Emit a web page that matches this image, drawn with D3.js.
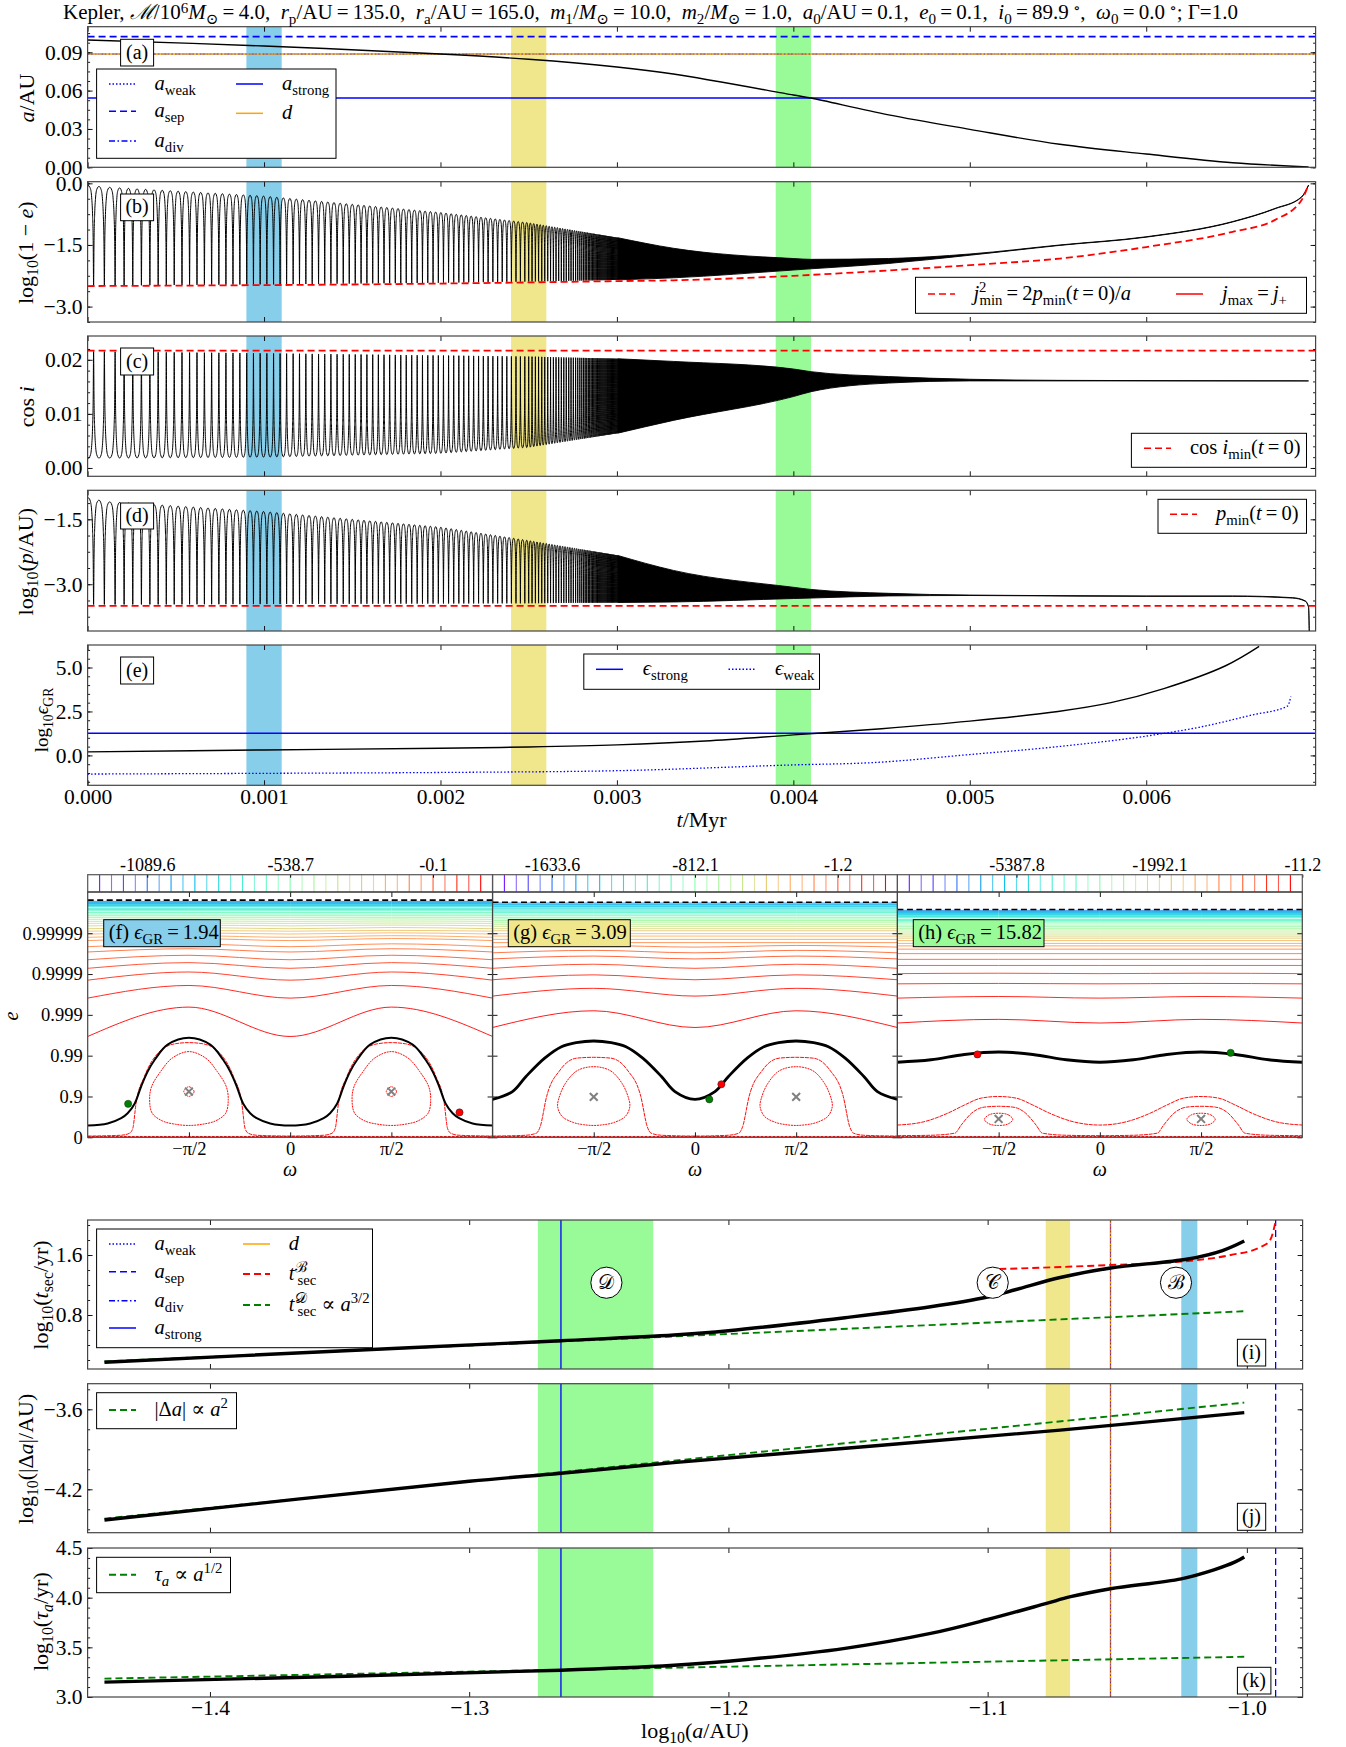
<!DOCTYPE html>
<html>
<head>
<meta charset="utf-8">
<script src="https://cdn.jsdelivr.net/npm/d3@7"></script>
<style>
html, body { margin: 0; background: white; }
text { font-family: "Liberation Serif", "DejaVu Serif", serif; white-space: pre; fill: black; }
</style>
</head>
<body>
<div id="chart"></div>
<script>
// ---- top panels, x is t in Myr ----
const tTicks = [0, 0.001, 0.002, 0.003, 0.004, 0.005, 0.006];
const tBandLo = [0.0009, 0.0024, 0.0039];
const tBandHi = [0.0011, 0.0026, 0.0041];
const bandColors = ["skyblue", "khaki", "palegreen"];

const aT = [0, 0.001, 0.002, 0.0025, 0.003, 0.00332, 0.004, 0.0041, 0.00454, 0.005, 0.00551, 0.006, 0.00649, 0.00692];
const aVal = [0.0996, 0.0949, 0.0886, 0.0845, 0.0785, 0.073, 0.0566, 0.0542, 0.041, 0.0297, 0.018, 0.0104, 0.0036, 0.0003];
const aSep = 0.1022, aD = 0.0886, aWeak = 0.0886, aDiv = 0.0886, aStrong = 0.0542;

const cycleTimes = [-26, 34, 95, 156, 207, 256, 305, 353, 400, 446, 491, 535, 578, 620, 662, 703, 744, 784, 824, 863, 902, 940, 978,
  1016, 1054, 1091, 1128, 1165, 1201, 1237, 1273, 1309, 1344, 1379, 1414, 1449, 1483, 1517, 1550, 1583, 1616, 1648, 1680, 1712, 1744,
  1775, 1806, 1837, 1868, 1898, 1928, 1958, 1988, 2017, 2046, 2075, 2104, 2132, 2160, 2188, 2216, 2243, 2270, 2297, 2324, 2350, 2376,
  2402, 2428, 2453, 2478, 2500, 2519, 2538, 2556, 2574, 2591, 2608, 2624, 2640, 2655, 2670, 2685, 2699, 2713, 2727, 2740, 2753, 2766,
  2778, 2790, 2801, 2811, 2820, 2829, 2838, 2846, 2854, 2862, 2869, 2876, 2883, 2890, 2897, 2903, 2909, 2915, 2921, 2927, 2933, 2939,
  2945, 2950, 2955, 2960, 2965, 2970, 2975, 2980, 2985, 2990, 2995, 3000, 3005];
// one lobe between two troughs: [phase, fraction of the way to the far envelope]
const lobePhase = [0, 0.04, 0.1, 0.18, 0.3, 0.5, 0.7, 0.82, 0.9, 0.96, 1];
const lobeFrac = [0, 0.45, 0.72, 0.88, 0.97, 1, 0.97, 0.88, 0.72, 0.45, 0];

const bUpT = [0, 0.0001, 0.001, 0.002, 0.0025, 0.003, 0.00332, 0.004, 0.0041, 0.00454, 0.005, 0.00551, 0.006, 0.00649, 0.00673, 0.00688, 0.00692];
const bUp = [-0.05, -0.09, -0.31, -0.71, -0.96, -1.32, -1.58, -1.83, -1.85, -1.83, -1.72, -1.5, -1.3, -0.93, -0.61, -0.33, -0.04];
const bLoT = [0, 0.001, 0.002, 0.0025, 0.003, 0.00332, 0.004, 0.00454, 0.005, 0.00551, 0.006, 0.00649, 0.00673, 0.00688, 0.00692];
const bLo = [-2.49, -2.46, -2.42, -2.39, -2.35, -2.3, -2.11, -1.95, -1.75, -1.51, -1.31, -0.94, -0.62, -0.34, -0.05];
const bMinT = [0, 0.002, 0.003, 0.00332, 0.004, 0.00454, 0.005, 0.00551, 0.006, 0.00649, 0.00673, 0.00688, 0.00692];
const bMin = [-2.5, -2.44, -2.38, -2.36, -2.25, -2.12, -1.99, -1.83, -1.55, -1.18, -0.89, -0.41, -0.04];

const cUpT = [0, 0.001, 0.002, 0.0025, 0.003, 0.00332, 0.004, 0.0041, 0.00454, 0.005, 0.0055, 0.00692];
const cUp = [0.02155, 0.0212, 0.0208, 0.0206, 0.0202, 0.0197, 0.0183, 0.0178, 0.0169, 0.0164, 0.0162, 0.0161];
const cLoT = [0, 0.001, 0.002, 0.0025, 0.003, 0.00332, 0.004, 0.0041, 0.00454, 0.005, 0.0055, 0.00692];
const cLo = [0.0018, 0.002, 0.0027, 0.0038, 0.0064, 0.0088, 0.0132, 0.0141, 0.0157, 0.0161, 0.0161, 0.0161];
const cMin = 0.0217;

const dUpT = [0, 0.0001, 0.001, 0.002, 0.0025, 0.003, 0.00332, 0.004, 0.0041, 0.00454, 0.005, 0.006, 0.00649, 0.00683, 0.0069, 0.00692, 0.006925];
const dUp = [-1.0, -1.09, -1.32, -1.68, -1.99, -2.33, -2.68, -3.07, -3.12, -3.21, -3.25, -3.27, -3.27, -3.31, -3.38, -3.52, -4.3];
const dLoT = [0, 0.0025, 0.00332, 0.004, 0.00454, 0.005, 0.006, 0.00649, 0.00683, 0.0069, 0.00692, 0.006925];
const dLo = [-3.47, -3.44, -3.41, -3.33, -3.27, -3.26, -3.28, -3.28, -3.32, -3.39, -3.53, -4.3];
const dMin = -3.5;

const eGrT = [0, 0.001, 0.002, 0.0025, 0.003, 0.0035, 0.004, 0.0045, 0.005, 0.0055, 0.0058, 0.0061, 0.00645, 0.00664];
const eGr = [0.2, 0.31, 0.41, 0.48, 0.6, 0.82, 1.17, 1.52, 1.95, 2.5, 3.0, 3.8, 5.1, 6.2];
const eWeakT = [0, 0.001, 0.002, 0.003, 0.004, 0.00445, 0.005, 0.0055, 0.006, 0.0063, 0.0066, 0.0068, 0.00682];
const eWeak = [-1.06, -1.02, -0.97, -0.87, -0.54, -0.41, 0.05, 0.5, 1.1, 1.6, 2.3, 2.8, 3.35];
const eStrong = 1.26;

// ---- middle panels, y is u = -log10(1-e) ----
const eTickU = [0, 1, 2, 3, 4, 5];
const eTickLabels = ["0", "0.9", "0.99", "0.999", "0.9999", "0.99999"];
const omegaTicks = [-Math.PI / 2, 0, Math.PI / 2];
const omegaLabels = ["\u2212\u03c0/2", "0", "\u03c0/2"];
const rainbowStops = ["#8000ff", "#4062fa", "#00b5eb", "#40ecd4", "#80ffb4", "#c0ec8e", "#ffb462", "#ff6231", "#ff0000"];
const barIndex = d3.range(1, 34);

const fAt0 = [5.78, 5.75, 5.73, 5.70, 5.68, 5.65, 5.61, 5.58, 5.55, 5.51, 5.47, 5.43, 5.39, 5.34, 5.29, 5.24, 5.18, 5.11, 5.05, 4.98, 4.90, 4.82, 4.67, 4.54, 4.35, 4.14, 3.85, 3.41, 2.47];
const fAt90 = [5.78, 5.75, 5.73, 5.70, 5.68, 5.65, 5.61, 5.58, 5.55, 5.51, 5.47, 5.43, 5.39, 5.35, 5.30, 5.25, 5.20, 5.14, 5.07, 5.01, 4.94, 4.87, 4.74, 4.62, 4.46, 4.28, 4.05, 3.72, 3.19];
const gAt0 = [5.74, 5.71, 5.69, 5.66, 5.64, 5.60, 5.57, 5.54, 5.51, 5.47, 5.43, 5.39, 5.35, 5.31, 5.27, 5.22, 5.17, 5.11, 5.06, 4.99, 4.93, 4.85, 4.77, 4.66, 4.52, 4.37, 4.14, 3.86, 3.46, 2.69];
const gAt90 = [5.74, 5.71, 5.69, 5.66, 5.64, 5.60, 5.57, 5.54, 5.51, 5.47, 5.43, 5.39, 5.35, 5.31, 5.27, 5.22, 5.17, 5.11, 5.06, 4.99, 4.93, 4.85, 4.77, 4.70, 4.58, 4.44, 4.24, 3.98, 3.65, 3.10];
const hAt0 = [5.56, 5.53, 5.51, 5.48, 5.46, 5.43, 5.41, 5.38, 5.34, 5.31, 5.28, 5.25, 5.20, 5.16, 5.12, 5.08, 5.03, 4.98, 4.93, 4.88, 4.82, 4.75, 4.69, 4.61, 4.50, 4.36, 4.21, 4.01, 3.76, 3.41, 2.80];
const hAt90 = [5.56, 5.53, 5.51, 5.48, 5.46, 5.43, 5.41, 5.38, 5.34, 5.31, 5.28, 5.25, 5.20, 5.16, 5.12, 5.08, 5.03, 4.98, 4.93, 4.88, 4.82, 4.75, 4.69, 4.61, 4.50, 4.36, 4.21, 4.02, 3.77, 3.45, 2.89];

const fSepW = [0, 0.31, 0.52, 0.62, 0.73, 0.83, 0.93, 1.04, 1.24, 1.57];
const fSepU = [0.29, 0.34, 0.47, 0.59, 0.83, 1.25, 1.61, 1.9, 2.27, 2.44];
const fOutW = [0, 0.52, 0.65, 0.70, 0.75, 0.88, 1.09, 1.35, 1.57];
const fOutU = [0.03, 0.05, 0.10, 0.22, 0.83, 1.49, 2.06, 2.29, 2.32];
const fLoopW = [0, 0.26, 0.44, 0.58, 0.61, 0.57, 0.41, 0.21, 0];
const fLoopU = [2.10, 1.94, 1.61, 1.24, 0.92, 0.59, 0.40, 0.32, 0.29];
const fDotW = [0, 0.08, 0];
const fDotU = [1.24, 1.12, 1.0];

const gSepW = [0, 0.31, 0.52, 0.81, 1.07, 1.30, 1.57];
const gSepU = [0.93, 1.12, 1.49, 1.94, 2.22, 2.32, 2.36];
const gOutW = [0, 0.52, 0.68, 0.74, 0.84, 1.05, 1.31, 1.57];
const gOutU = [0.03, 0.05, 0.10, 0.26, 1.0, 1.65, 1.94, 1.96];
const gLoopW = [0, 0.26, 0.44, 0.54, 0.56, 0.49, 0.31, 0.16, 0];
const gLoopU = [1.73, 1.63, 1.32, 0.96, 0.75, 0.51, 0.36, 0.31, 0.29];

const hSepW = [0, 0.52, 1.04, 1.57];
const hSepU = [1.84, 1.90, 2.03, 2.09];
const hUpW = [0, 0.41, 0.78, 1.04, 1.30, 1.57];
const hUpU = [0.30, 0.38, 0.59, 0.79, 0.96, 1.0];
const hOutW = [0, 0.52, 0.89, 0.99, 1.15, 1.35, 1.57];
const hOutU = [0.04, 0.05, 0.10, 0.30, 0.59, 0.74, 0.76];
const hLoopW = [0, 0.15, 0.22, 0.15, 0];
const hLoopU = [0.59, 0.55, 0.44, 0.33, 0.29];

// ---- bottom panels, x is log10(a/AU) ----
const logATicks = [-1.4, -1.3, -1.2, -1.1, -1.0];
const aBandLo = [-1.0253, -1.0776, -1.2735];
const aBandHi = [-1.0191, -1.0682, -1.229];
const logAStrong = -1.2646, logAD = -1.0526, logASep = -0.9889;

const iA = [-1.4407, -1.35, -1.2646, -1.221, -1.2, -1.155, -1.122, -1.1, -1.089, -1.072, -1.0526, -1.0227, -1.0094, -1.001];
const iVal = [0.17, 0.32, 0.457, 0.533, 0.59, 0.764, 0.91, 1.04, 1.14, 1.3, 1.427, 1.547, 1.66, 1.787];
const iBA = [-1.0955, -1.0526, -1.0227, -1.0062, -0.9945, -0.991, -0.9888];
const iBVal = [1.413, 1.467, 1.52, 1.6, 1.71, 1.8, 2.067];
const iDA = [-1.4407, -1.001];
const iDVal = [0.18, 0.85];

const jA = [-1.4407, -1.3, -1.2646, -1.2212, -1.072, -1.001];
const jVal = [-4.43, -4.14, -4.08, -4.0, -3.756, -3.625];
const jFitA = [-1.4407, -1.001];
const jFitVal = [-4.42, -3.55];

const kA = [-1.4407, -1.2646, -1.221, -1.2, -1.155, -1.122, -1.1, -1.0776, -1.068, -1.0526, -1.0253, -1.0127, -1.0045, -1.001];
const kVal = [3.15, 3.27, 3.32, 3.36, 3.49, 3.64, 3.78, 3.94, 4.01, 4.09, 4.19, 4.28, 4.36, 4.41];
const kFitA = [-1.4407, -1.001];
const kFitVal = [3.185, 3.405];

const DASH = "7 4", DOT = "1.5 2", DASHDOT = "6 2.5 1.5 2.5";
const SMOOTH = d3.curveCatmullRom.alpha(0.5);

const svg = d3.select("#chart").append("svg").attr("width", 1346).attr("height", 1747);
const marks = svg.append("g");
const overlay = svg.append("g");

// tiny markup: *italic*, _{sub}, ^{sup}, ~{dx}
function rich(sel, str, fs, rise) {
  sel.attr("font-size", fs);
  let off = 0, dx = 0;
  str.split(/(\*[^*]+\*|_\{[^}]*\}|\^\{[^}]*\}|~\{[^}]*\})/).filter(s => s).forEach(s => {
    let txt = s, size = fs, target = 0, ital = false;
    if (s[0] == "~" && s[1] == "{") { dx = +s.slice(2, -1); return; }
    if (s[0] == "_" && s[1] == "{") { txt = s.slice(2, -1); size = fs * 0.72; target = fs * 0.24; }
    else if (s[0] == "^" && s[1] == "{") { txt = s.slice(2, -1); size = fs * 0.72; target = -fs * (rise || 0.38); }
    if (txt[0] == "*") { txt = txt.replace(/\*/g, ""); ital = true; }
    const t = sel.append("tspan").attr("font-size", size).attr("dy", target - off).text(txt);
    if (dx) { t.attr("dx", dx); dx = 0; }
    if (ital) t.attr("font-style", "italic");
    off = target;
  });
  return sel;
}

let clipCount = 0;
function makePanel(left, top, width, height, xDom, yDom) {
  const g = marks.append("g").attr("transform", `translate(${left},${top})`);
  const x = d3.scaleLinear().domain(xDom).range([0, width]);
  const y = d3.scaleLinear().domain(yDom).range([height, 0]);
  const id = "clip" + (clipCount++);
  g.append("clipPath").attr("id", id).append("rect").attr("width", width).attr("height", height);
  const plot = g.append("g").attr("clip-path", `url(#${id})`);
  return { g, x, y, plot, width, height, left, top };
}

function axes(p, o) {
  const tick = sel => { sel.selectAll("path").remove(); sel.selectAll("line").attr("stroke", "black").attr("stroke-width", 0.9); sel.selectAll("text").attr("font-family", "Liberation Serif").attr("font-size", o.fs || 21.5); };
  const top = p.g.append("g").call(d3.axisTop(p.x).tickValues(o.xTicks).tickSize(-5).tickFormat(""));
  const bot = p.g.append("g").attr("transform", `translate(0,${p.height})`)
    .call(d3.axisBottom(p.x).tickValues(o.xTicks).tickSize(-5).tickPadding(o.xPad || 3).tickFormat(o.xFmt || (() => "")));
  const lef = p.g.append("g").call(d3.axisLeft(p.y).tickValues(o.yTicks).tickSize(-5).tickPadding(5).tickFormat(o.yFmt || (() => "")));
  const rig = p.g.append("g").attr("transform", `translate(${p.width},0)`).call(d3.axisRight(p.y).tickValues(o.yTicks).tickSize(-5).tickFormat(""));
  [top, bot, lef, rig].forEach(a => tick(a));
  if (o.yMinor) {
    const a1 = p.g.append("g").call(d3.axisLeft(p.y).tickValues(o.yMinor).tickSize(-2.5).tickFormat(""));
    const a2 = p.g.append("g").attr("transform", `translate(${p.width},0)`).call(d3.axisRight(p.y).tickValues(o.yMinor).tickSize(-2.5).tickFormat(""));
    [a1, a2].forEach(a => tick(a));
  }
  p.g.append("rect").attr("width", p.width).attr("height", p.height).attr("fill", "none").attr("stroke", "#444").attr("stroke-width", 1.2);
}

function bands(p, lo, hi, colors) {
  p.plot.selectAll("rect.band").data(lo).join("rect").attr("class", "band")
    .attr("x", d => p.x(d))
    .attr("width", (d, i) => p.x(hi[i]) - p.x(d))
    .attr("height", p.height)
    .attr("fill", (d, i) => colors[i]);
}

function drawLine(p, xs, ys, stroke, width, dash, curve) {
  const line = d3.line().x(d => p.x(d[0])).y(d => p.y(d[1])).curve(curve || d3.curveMonotoneX);
  return p.plot.append("path").attr("d", line(xs.map((v, i) => [v, ys[i]])))
    .attr("fill", "none").attr("stroke", stroke).attr("stroke-width", width).attr("stroke-dasharray", dash || null);
}
function hLine(p, v, stroke, width, dash) { return drawLine(p, p.x.domain(), [v, v], stroke, width, dash, d3.curveLinear); }
function vLine(p, v, stroke, width, dash) { return drawLine(p, [v, v], p.y.domain(), stroke, width, dash, d3.curveLinear); }

// oscillating curve between two envelopes, solid black band past the last listed cycle
function oscillation(p, upT, up, loT, lo, flip) {
  const upper = d3.scaleLinear().domain(upT).range(up).clamp(true);
  const lower = d3.scaleLinear().domain(loT).range(lo).clamp(true);
  const pts = [];
  cycleTimes.slice(0, -1).forEach((c, k) => {
    const len = cycleTimes[k + 1] - c;
    lobePhase.forEach((ph, j) => {
      const t = (c + ph * len) * 1e-6;
      const f = flip ? 1 - lobeFrac[j] : lobeFrac[j];
      pts.push([t, lower(t) + f * (upper(t) - lower(t))]);
    });
  });
  const line = d3.line().x(d => p.x(d[0])).y(d => p.y(d[1])).curve(d3.curveMonotoneX);
  p.plot.append("path").attr("d", line(pts)).attr("fill", "none").attr("stroke", "black").attr("stroke-width", 1);
  const start = cycleTimes[cycleTimes.length - 1] * 1e-6;
  const ts = [start].concat(Array.from(new Set(upT.concat(loT))).filter(t => t > start).sort(d3.ascending));
  const area = d3.area().x(d => p.x(d)).y0(d => p.y(lower(d))).y1(d => p.y(upper(d))).curve(d3.curveMonotoneX);
  p.plot.append("path").attr("d", area(ts)).attr("fill", "black").attr("stroke", "black").attr("stroke-width", 0.9);
}

function labelBox(x0, y0, x1, y1, label, fs, fill) {
  overlay.append("rect").attr("x", x0).attr("y", y0).attr("width", x1 - x0).attr("height", y1 - y0)
    .attr("fill", fill || "white").attr("stroke", "black").attr("stroke-width", 1);
  const t = overlay.append("text").attr("x", fill ? x0 + 5 : (x0 + x1) / 2).attr("y", (y0 + y1) / 2 + fs * 0.3)
    .attr("text-anchor", fill ? "start" : "middle");
  rich(t, label, fs);
}

function legend(x0, y0, x1, y1, entries) {
  overlay.append("rect").attr("x", x0).attr("y", y0).attr("width", x1 - x0).attr("height", y1 - y0)
    .attr("fill", "white").attr("stroke", "black").attr("stroke-width", 1);
  entries.forEach(e => {
    overlay.append("line").attr("x1", e.x).attr("x2", e.x + 27).attr("y1", e.y).attr("y2", e.y)
      .attr("stroke", e.color).attr("stroke-width", e.w || 1.5).attr("stroke-dasharray", e.dash || null);
    rich(overlay.append("text").attr("x", e.tx).attr("y", e.y + 6), e.label, 20.5);
  });
}

function yLabel(x, y, label, fs) {
  rich(overlay.append("text").attr("transform", `translate(${x},${y}) rotate(-90)`).attr("text-anchor", "middle"), label, fs || 22);
}
function xLabel(x, y, label, fs) {
  rich(overlay.append("text").attr("x", x).attr("y", y).attr("text-anchor", "middle"), label, fs || 22);
}

// title
rich(overlay.append("text").attr("x", 63).attr("y", 18.5),
  "Kepler, *\u2133*/10^{6}*M*_{\u2299}\u2009=\u20094.0,  *r*_{p}/AU\u2009=\u2009135.0,  *r*_{a}/AU\u2009=\u2009165.0,  *m*_{1}/*M*_{\u2299}\u2009=\u200910.0,  *m*_{2}/*M*_{\u2299}\u2009=\u20091.0,  *a*_{0}/AU\u2009=\u20090.1,  *e*_{0}\u2009=\u20090.1,  *i*_{0}\u2009=\u200989.9\u2009^{\u2218},  *\u03c9*_{0}\u2009=\u20090.0\u2009^{\u2218}; \u0393=1.0", 21, 0.28);

// ---- panels a-e ----
const L = 87.6, W1 = 1228, tDom = [0, 0.00696];
const fmt2 = d3.format(".2f"), fmt1 = d3.format(".1f");

const pa = makePanel(L, 26.7, W1, 140.6, tDom, [0, 0.11]);
bands(pa, tBandLo, tBandHi, bandColors);
hLine(pa, aD, "orange", 1.4);
hLine(pa, aWeak, "blue", 1, DOT).attr("opacity", 0.45);
hLine(pa, aDiv, "blue", 1, DASHDOT).attr("opacity", 0.3);
hLine(pa, aSep, "blue", 1.6, DASH);
hLine(pa, aStrong, "blue", 1.4);
drawLine(pa, aT, aVal, "black", 1.4, null, SMOOTH);
axes(pa, { xTicks: tTicks, yTicks: [0, 0.03, 0.06, 0.09], yFmt: fmt2, yMinor: d3.range(0, 0.11, 0.0075) });

const pb = makePanel(L, 181.7, W1, 140.3, tDom, [-3.375, 0.04]);
bands(pb, tBandLo, tBandHi, bandColors);
oscillation(pb, bUpT, bUp, bLoT, bLo, false);
drawLine(pb, bMinT, bMin, "red", 1.8, DASH);
axes(pb, { xTicks: tTicks, yTicks: [-3, -1.5, 0], yFmt: fmt1, yMinor: d3.range(-3.375, 0.04, 0.375) });

const pc = makePanel(L, 336, W1, 140.3, tDom, [-0.00154, 0.0244]);
bands(pc, tBandLo, tBandHi, bandColors);
oscillation(pc, cUpT, cUp, cLoT, cLo, true);
hLine(pc, cMin, "red", 1.8, DASH);
axes(pc, { xTicks: tTicks, yTicks: [0, 0.01, 0.02], yFmt: fmt2, yMinor: d3.range(0, 0.024, 0.002) });

const pd = makePanel(L, 490.3, W1, 140.7, tDom, [-4.08, -0.83]);
bands(pd, tBandLo, tBandHi, bandColors);
oscillation(pd, dUpT, dUp, dLoT, dLo, false);
hLine(pd, dMin, "red", 1.8, DASH);
axes(pd, { xTicks: tTicks, yTicks: [-3, -1.5], yFmt: fmt1, yMinor: d3.range(-3.75, -0.83, 0.375) });

const pe = makePanel(L, 645, W1, 140.3, tDom, [-1.7, 6.28]);
bands(pe, tBandLo, tBandHi, bandColors);
hLine(pe, eStrong, "blue", 1.4);
drawLine(pe, eWeakT, eWeak, "blue", 1.3, DOT);
drawLine(pe, eGrT, eGr, "black", 1.4, null, SMOOTH);
axes(pe, { xTicks: tTicks, xFmt: d3.format(".3f"), yTicks: [0, 2.5, 5], yFmt: fmt1, yMinor: d3.range(-1.5, 6.28, 0.5) });

const c1x = 109, c1t = 154.5;
legend(96.6, 69, 336, 158.3, [
  { x: c1x, tx: c1t, y: 84, color: "blue", dash: DOT, label: "*a*_{weak}" },
  { x: c1x, tx: c1t, y: 111.3, color: "blue", dash: DASH, label: "*a*_{sep}" },
  { x: c1x, tx: c1t, y: 141, color: "blue", dash: DASHDOT, label: "*a*_{div}" },
  { x: 236, tx: 282, y: 84, color: "blue", label: "*a*_{strong}" },
  { x: 236, tx: 282, y: 113.3, color: "orange", label: "*d*" }
]);
legend(915.5, 277.3, 1306.5, 313.3, [
  { x: 928, tx: 973.4, y: 294, color: "red", dash: DASH, label: "*j*^{2}~{-7}_{min}\u2009=\u20092*p*_{min}(*t*\u2009=\u20090)/*a*" },
  { x: 1176, tx: 1222, y: 294, color: "red", label: "*j*_{max}\u2009=\u2009*j*_{+}" }
]);
legend(1131.4, 433.3, 1306.5, 467.3, [{ x: 1144, tx: 1190, y: 448.3, color: "red", dash: DASH, label: "cos *i*_{min}(*t*\u2009=\u20090)" }]);
legend(1158, 499.3, 1306.5, 533.3, [{ x: 1170, tx: 1216, y: 514.3, color: "red", dash: DASH, label: "*p*_{min}(*t*\u2009=\u20090)" }]);
legend(583.8, 654, 819.5, 689.3, [
  { x: 596, tx: 642.7, y: 669.3, color: "blue", label: "*\u03f5*_{strong}" },
  { x: 728.5, tx: 775, y: 669.3, color: "blue", dash: DOT, label: "*\u03f5*_{weak}" }
]);
labelBox(120.6, 39.3, 153.6, 66, "(a)", 20);
labelBox(120.6, 194, 153.6, 220.7, "(b)", 20);
labelBox(120.6, 348, 153.6, 375, "(c)", 20);
labelBox(120.6, 503, 153.6, 529, "(d)", 20);
labelBox(120.6, 657, 153.6, 684, "(e)", 20);
yLabel(34, 98, "*a*/AU");
yLabel(33, 252.7, "log_{10}(1 \u2212 *e*)");
yLabel(34, 406.7, "cos *i*");
yLabel(33, 561.7, "log_{10}(*p*/AU)");
yLabel(48, 720, "log_{10}*\u03f5*_{GR}", 19);
xLabel(701.6, 826.7, "*t*/Myr");

// ---- panels f-h ----
const rainbow = d3.scaleLinear().domain(rainbowStops.map((d, i) => i / (rainbowStops.length - 1))).range(rainbowStops);
const WP = 404.9, HP = 245.3, TP = 892, PI = Math.PI;

// mirror a quarter period (0..pi/2) over the whole -pi..pi range
function periodic(ws, us) {
  const fw = ws.map((w, i) => [w, us[i]]);
  const half = fw.concat(fw.slice(0, -1).reverse().map(d => [PI - d[0], d[1]]));
  const all = [];
  [-PI, 0].forEach(o => half.slice(o == 0 ? 1 : 0).forEach(d => all.push([d[0] + o, d[1]])));
  return all;
}

function omegaPanel(left, o) {
  const strip = marks.append("g").attr("transform", `translate(${left},874.7)`);
  const sx = d3.scaleLinear().domain([0, 34]).range([0, WP]);
  strip.selectAll("line").data(barIndex).join("line")
    .attr("x1", d => sx(d)).attr("x2", d => sx(d)).attr("y1", 0).attr("y2", 17.3)
    .attr("stroke", d => rainbow(d / 33)).attr("stroke-width", 1.1).attr("opacity", d => d % 2 ? 1 : 0.7);
  const sa = strip.append("g").call(d3.axisTop(sx).tickValues(o.barTicks).tickSize(-3).tickPadding(4).tickFormat((d, i) => o.barLabels[i]));
  sa.selectAll("path").remove();
  sa.selectAll("line").attr("stroke", "black");
  sa.selectAll("text").attr("font-family", "Liberation Serif").attr("font-size", 18);
  strip.append("rect").attr("width", WP).attr("height", 17.3).attr("fill", "none").attr("stroke", "#555").attr("stroke-width", 1.2);

  const p = makePanel(left, TP, WP, HP, [-PI, PI], [0, 6.01]);
  o.at0.forEach((u, i) => {
    const c = rainbow(0.2 + 0.8 * i / (o.at0.length - 1));
    drawLine(p, [-PI, -PI / 2, 0, PI / 2, PI], [u, o.at90[i], u, o.at90[i], u], c, 0.9);
  });
  const pline = d3.line().x(d => p.x(d[0])).y(d => p.y(d[1])).curve(d3.curveMonotoneX);
  const sepLine = d3.line().x(d => p.x(d[0])).y(d => p.y(d[1])).curve(SMOOTH);
  const loop = d3.line().x(d => p.x(d[0])).y(d => p.y(d[1])).curve(d3.curveCatmullRomClosed);
  const red = s => s.attr("fill", "none").attr("stroke", "red").attr("stroke-width", 0.95).attr("stroke-dasharray", "4 0.8");
  hLine(p, 0.02, "red", 1, "3 1");
  o.outers.forEach(c => red(p.plot.append("path").attr("d", pline(periodic(c[0], c[1])))));
  [-PI / 2, PI / 2].forEach(cw => {
    o.loops.forEach(c => {
      const right = c[0].map((w, i) => [cw + w, c[1][i]]);
      const inner = c[1].slice(1, -1).reverse();
      const mirrored = c[0].slice(1, -1).reverse().map((w, i) => [cw - w, inner[i]]);
      red(p.plot.append("path").attr("d", loop(right.concat(mirrored)))).attr("stroke-dasharray", "2 0.8");
    });
    p.plot.append("path").attr("d", d3.symbol(d3.symbolX, 42)())
      .attr("transform", `translate(${p.x(cw)},${p.y(o.xU)})`).attr("fill", "none").attr("stroke", "gray").attr("stroke-width", 2);
  });
  p.plot.append("path").attr("d", sepLine(periodic(o.sepW, o.sepU))).attr("fill", "none").attr("stroke", "black").attr("stroke-width", o.sepWidth);
  hLine(p, o.top, "black", 1.6, "6 3.5");
  p.plot.selectAll("circle").data(o.dots).join("circle")
    .attr("cx", d => p.x(d[0])).attr("cy", d => p.y(d[1])).attr("r", 3.6)
    .attr("fill", d => d[2]).attr("stroke", "#222").attr("stroke-width", 0.5);
  axes(p, { xTicks: omegaTicks, xFmt: (d, i) => omegaLabels[i], xPad: 5, yTicks: eTickU, yFmt: o.labels ? ((d, i) => eTickLabels[i]) : null, fs: 18.5 });
  labelBox(o.box[0], 919.7, o.box[1], 946.7, o.tag, 20.5, o.fill);
  xLabel(left + WP / 2, 1176, "*\u03c9*", 20);
}

omegaPanel(87.7, {
  at0: fAt0, at90: fAt90, labels: true, top: 5.81, xU: 1.12, sepW: fSepW, sepU: fSepU, sepWidth: 2,
  outers: [[fOutW, fOutU]], loops: [[fLoopW, fLoopU], [fDotW, fDotU]],
  dots: [[-2.514, 0.82, "green"], [2.628, 0.61, "red"]],
  barTicks: [5, 17, 29], barLabels: ["-1089.6", "-538.7", "-0.1"],
  box: [103.7, 220.3], tag: "(f) *\u03f5*_{GR}\u2009=\u20091.94", fill: bandColors[0]
});
omegaPanel(492.5, {
  at0: gAt0, at90: gAt90, labels: false, top: 5.76, xU: 0.99, sepW: gSepW, sepU: gSepU, sepWidth: 2.8,
  outers: [[gOutW, gOutU]], loops: [[gLoopW, gLoopU]],
  dots: [[0.223, 0.93, "green"], [0.41, 1.30, "red"]],
  barTicks: [5, 17, 29], barLabels: ["-1633.6", "-812.1", "-1.2"],
  box: [508.3, 630.3], tag: "(g) *\u03f5*_{GR}\u2009=\u20093.09", fill: bandColors[1]
});
omegaPanel(897.4, {
  at0: hAt0, at90: hAt90, labels: false, top: 5.58, xU: 0.45, sepW: hSepW, sepU: hSepU, sepWidth: 3,
  outers: [[hUpW, hUpU], [hOutW, hOutU]], loops: [[hLoopW, hLoopU]],
  dots: [[-1.90, 2.03, "red"], [2.03, 2.07, "green"]],
  barTicks: [10, 22, 34], barLabels: ["-5387.8", "-1992.1", "-11.2"],
  box: [913.3, 1044], tag: "(h) *\u03f5*_{GR}\u2009=\u200915.82", fill: bandColors[2]
});
yLabel(18, 1016, "*e*", 20);

// ---- panels i-k ----
const WB = 1215, aDom = [-1.4472, -0.9785];
function lowerPanel(top, h, yDom) {
  const p = makePanel(L, top, WB, h, aDom, yDom);
  bands(p, aBandLo, aBandHi, bandColors);
  vLine(p, logAD, "orange", 1.6);
  vLine(p, logAD, "blue", 1, DOT).attr("opacity", 0.5);
  vLine(p, logAD, "purple", 1, DASHDOT).attr("opacity", 0.4);
  vLine(p, logASep, "blue", 1.3, DASH);
  vLine(p, logAStrong, "blue", 1.3);
  return p;
}

const pi_ = lowerPanel(1220, 149, [0.08, 2.067]);
drawLine(pi_, iDA, iDVal, "green", 1.9, DASH, d3.curveLinear);
drawLine(pi_, iBA, iBVal, "red", 1.9, DASH);
drawLine(pi_, iA, iVal, "black", 3.4, null, SMOOTH);
axes(pi_, { xTicks: logATicks, yTicks: [0.8, 1.6], yFmt: fmt1, yMinor: d3.range(0.2, 2.067, 0.2) });

const pj = lowerPanel(1383.7, 149, [-4.5255, -3.408]);
drawLine(pj, jFitA, jFitVal, "green", 1.9, DASH, d3.curveLinear);
drawLine(pj, jA, jVal, "black", 3.4, null, SMOOTH);
axes(pj, { xTicks: logATicks, yTicks: [-4.2, -3.6], yFmt: fmt1, yMinor: d3.range(-4.5, -3.408, 0.15) });

const pk = lowerPanel(1548, 149, [3, 4.5]);
drawLine(pk, kFitA, kFitVal, "green", 1.9, DASH, d3.curveLinear);
drawLine(pk, kA, kVal, "black", 3.4, null, SMOOTH);
axes(pk, { xTicks: logATicks, xFmt: fmt1, yTicks: [3, 3.5, 4, 4.5], yFmt: fmt1, yMinor: d3.range(3, 4.5, 0.1) });

legend(96.6, 1229, 372.5, 1347.7, [
  { x: c1x, tx: c1t, y: 1244, color: "blue", dash: DOT, label: "*a*_{weak}" },
  { x: c1x, tx: c1t, y: 1271.7, color: "blue", dash: DASH, label: "*a*_{sep}" },
  { x: c1x, tx: c1t, y: 1300.7, color: "blue", dash: DASHDOT, label: "*a*_{div}" },
  { x: c1x, tx: c1t, y: 1328, color: "blue", label: "*a*_{strong}" },
  { x: 243, tx: 288.8, y: 1244, color: "orange", label: "*d*" },
  { x: 243, tx: 288.8, y: 1274, color: "red", dash: DASH, w: 1.9, label: "*t*^{\u212c}~{-9}_{sec}" },
  { x: 243, tx: 288.8, y: 1305, color: "green", dash: DASH, w: 1.9, label: "*t*^{\ud835\udc9f}~{-9}_{sec} \u221d *a*^{3/2}" }
]);
legend(96.6, 1392.7, 236.5, 1428.7, [{ x: c1x, tx: c1t, y: 1410, color: "green", dash: DASH, w: 1.9, label: "|\u0394*a*| \u221d *a*^{2}" }]);
legend(96.6, 1557.3, 230.5, 1592.7, [{ x: c1x, tx: c1t, y: 1574.7, color: "green", dash: DASH, w: 1.9, label: "*\u03c4*_{*a*} \u221d *a*^{1/2}" }]);

[[606.4, "\ud835\udc9f"], [992.7, "\ud835\udc9e"], [1176, "\u212c"]].forEach(d => {
  overlay.append("circle").attr("cx", d[0]).attr("cy", 1282.7).attr("r", 15.6).attr("fill", "white").attr("stroke", "black").attr("stroke-width", 1);
  overlay.append("text").attr("x", d[0]).attr("y", 1289).attr("text-anchor", "middle").attr("font-size", 20).text(d[1]);
});
labelBox(1237.4, 1339.3, 1265.7, 1366, "(i)", 20);
labelBox(1237.4, 1503.3, 1265.7, 1530.3, "(j)", 20);
labelBox(1237.4, 1667.3, 1270.9, 1694, "(k)", 20);
yLabel(48, 1295, "log_{10}(*t*_{sec}/yr)");
yLabel(33, 1459, "log_{10}(|\u0394*a*|/AU)");
yLabel(48, 1621.7, "log_{10}(*\u03c4*_{*a*}/yr)");
xLabel(694.8, 1738, "log_{10}(*a*/AU)");
</script>
</body>
</html>
